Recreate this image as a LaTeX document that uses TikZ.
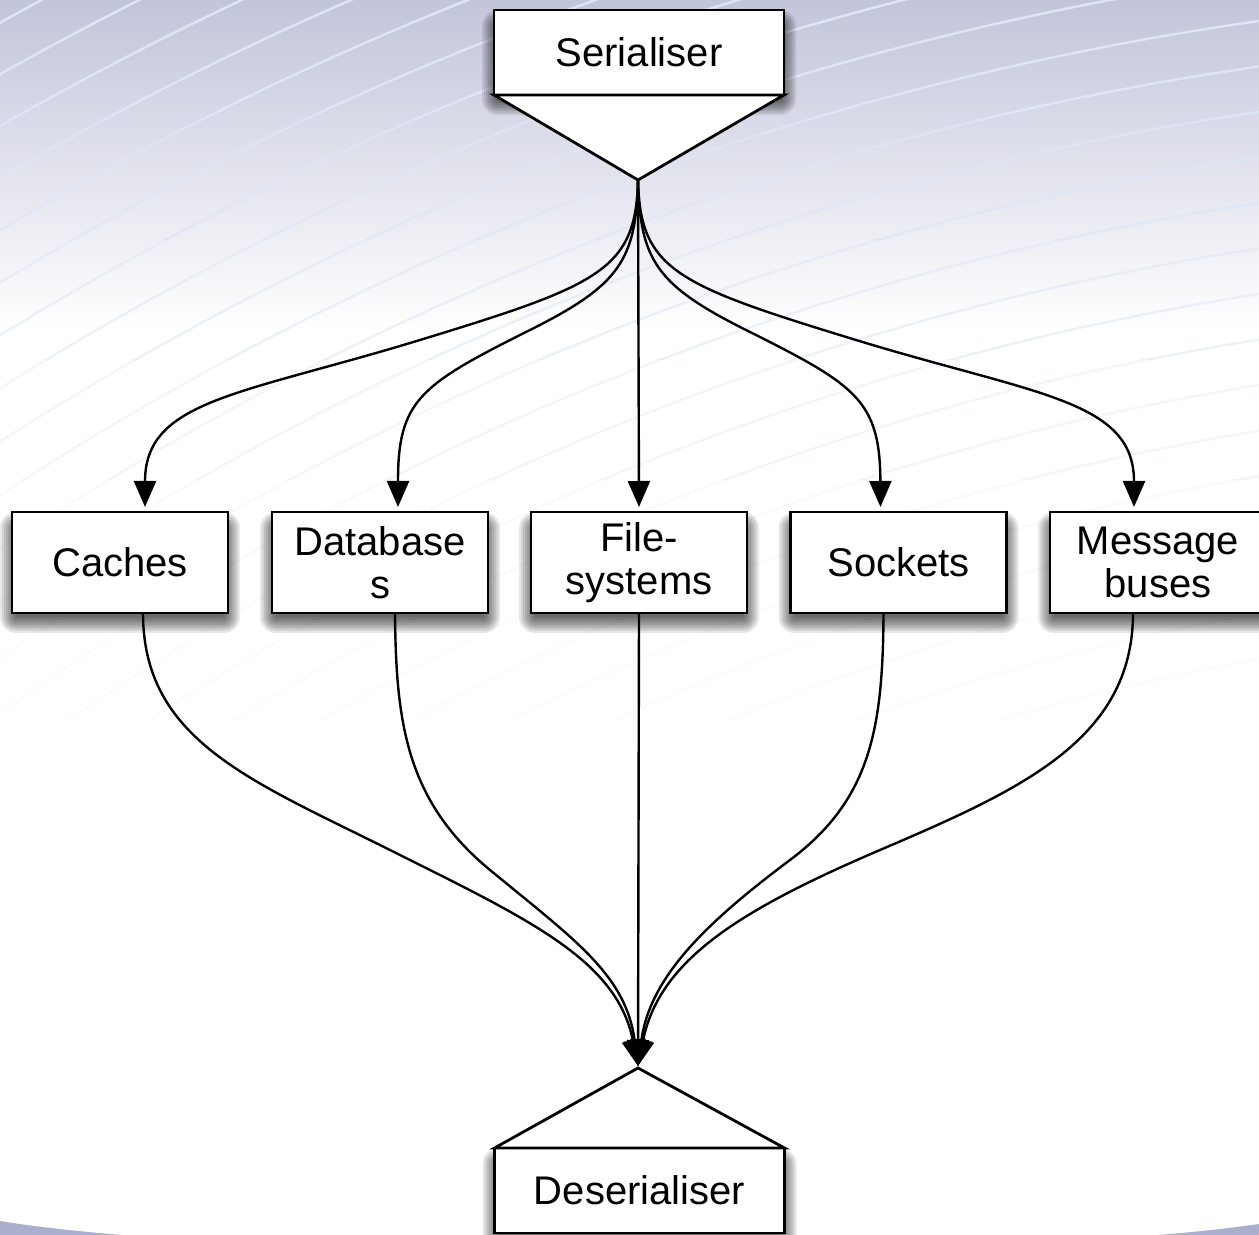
\documentclass[tikz,border=0pt]{standalone}
\usepackage{fontspec}
\setmainfont{Liberation Sans}
\usetikzlibrary{arrows.meta}

\definecolor{bgtop}{RGB}{194,197,218}
\definecolor{arcblue}{RGB}{222,230,246}
\definecolor{bandblue}{RGB}{170,175,205}

\pgfdeclarelayer{back}
\pgfdeclarelayer{shade}
\pgfsetlayers{back,shade,main}

% soft drop shadow under a rectangular node, built from stacked translucent fills
\newcommand\softshadow[1]{%
  \begin{pgfonlayer}{shade}
    \foreach \k in {0,...,8}
      \fill[black, opacity=0.09, rounded corners={\k*1pt}]
        ([xshift={(2-\k)*1pt}, yshift={(-2-\k)*1pt}]#1.south west)
        rectangle ([xshift={(\k-2)*1pt}, yshift={(\k-8)*1pt}]#1.north east);
  \end{pgfonlayer}}

\begin{document}
\begin{tikzpicture}[x=0.5pt,y=-0.5pt,
  box/.style={draw=black, line width=1.4pt, fill=white, inner sep=0pt, outer sep=0pt,
    align=center, font=\fontsize{20pt}{21.5pt}\selectfont},
  midbox/.style={box, minimum width=108pt, minimum height=50.5pt},
  endbox/.style={box, minimum width=145pt, minimum height=42.5pt},
  link/.style={line width=1.2pt, -{Triangle[length=13pt,width=11pt]}},
  funnel/.style={draw=black, line width=1.4pt, fill=white, line join=miter},
  swirl/.style={arcblue, line width=1.2pt}
]
\useasboundingbox (0,0) rectangle (1259,1235);

% backdrop: soft gradient, faint concentric swirl lines, band at the foot
\begin{pgfonlayer}{back}
  \fill[white] (0,0) rectangle (1259,1235);
  \shade[top color=bgtop, bottom color=white] (0,0) rectangle (1259,330);
  \foreach \ya/\yb/\op in {0/120/1, 120/240/0.8, 240/360/0.55, 360/480/0.35, 480/600/0.2, 600/720/0.1} {
    \begin{scope}
      \clip (0,\ya) rectangle (1259,\yb);
      \foreach \r in {2480,2525,...,3560}
        \draw[swirl, opacity=\op] (1700,3100) circle (\r);
    \end{scope}
  }
  \fill[bandblue] (0,1221) .. controls (250,1262) and (1000,1262) .. (1259,1224)
    -- (1259,1235) -- (0,1235) -- cycle;
\end{pgfonlayer}

% nodes
\node[endbox] (ser) at (639,52.5) {Serialiser};
\coordinate (sertip) at (638,180);
\draw[funnel] (ser.south west) -- (sertip) -- (ser.south east) -- cycle;

\node[midbox] (caches) at (120,562.5) {Caches};
\node[midbox] (db) at (380,562.5) {Database\\s};
\node[midbox] (fs) at (639,562.5) {File-\\systems};
\node[midbox] (sock) at (898.5,562.5) {Sockets};
\node[midbox] (msg) at (1158,562.5) {Message\\buses};

\node[endbox] (deser) at (639.5,1190.5) {Deserialiser};
\coordinate (desertip) at (638,1068);
\draw[funnel] (deser.north west) -- (desertip) -- (deser.north east) -- cycle;
\coordinate (desin) at (638,1066);

\softshadow{ser}
\softshadow{caches}
\softshadow{db}
\softshadow{fs}
\softshadow{sock}
\softshadow{msg}
\softshadow{deser}

% fan-out from the serialiser
\draw[link] (sertip) .. controls (636,270) and (600,285) .. (420,340)
  .. controls (240,395) and (145,400) .. ([xshift=12.5pt,yshift=2.5pt]caches.north);
\draw[link] (sertip) .. controls (636,260) and (620,285) .. (530,330)
  .. controls (420,385) and (398,400) .. ([xshift=9pt,yshift=2.5pt]db.north);
\draw[link] (sertip) -- ([yshift=2.5pt]fs.north);
\draw[link] (sertip) .. controls (640,260) and (656,285) .. (746,330)
  .. controls (856,385) and (880,400) .. ([xshift=-9pt,yshift=2.5pt]sock.north);
\draw[link] (sertip) .. controls (640,270) and (676,285) .. (856,340)
  .. controls (1036,395) and (1134,400) .. ([xshift=-12pt,yshift=2.5pt]msg.north);

% fan-in to the deserialiser
\draw[link] ([xshift=11.5pt]caches.south) .. controls (143,740) and (250,780) .. (390,850)
  .. controls (530,920) and (617,960) .. (desin);
\draw[link] ([xshift=7.5pt]db.south) .. controls (396,720) and (405,800) .. (490,870)
  .. controls (575,940) and (626,975) .. (desin);
\draw[link] (fs.south) -- (desin);
\draw[link] ([xshift=-7.5pt]sock.south) .. controls (883,730) and (870,800) .. (790,860)
  .. controls (710,920) and (650,975) .. (desin);
\draw[link] ([xshift=-12.5pt]msg.south) .. controls (1133,740) and (1020,790) .. (880,850)
  .. controls (740,910) and (659,960) .. (desin);
\end{tikzpicture}
\end{document}
